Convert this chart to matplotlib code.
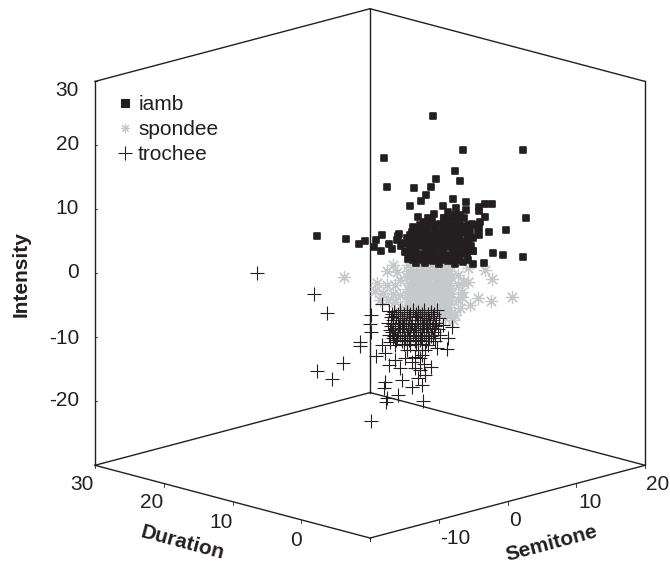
import matplotlib
matplotlib.use('Agg')
import matplotlib.pyplot as plt
from matplotlib.lines import Line2D

plt.rcParams['font.family'] = ['Liberation Sans', 'DejaVu Sans']

# Values. Depth along Duration can't be read from a single
# view, so each point is given as (Semitone, Intensity) on the Duration = 5 plane.
duration_plane = 5

iamb_semitone = [4.1, 8.5, 17.3, -3.0, 7.3, 4.6, 8.1, -2.6, 1.4, 3.8, 3.1, 2.4, 7.0, 9.0, 0.8, 5.6, 10.9, 11.7, 12.7, 10.9,
                 17.7, 2.0, 4.3, 5.8, 11.7, 14.7, 12.3, 10.9, -12.7, -8.5, -6.6, -5.7, -4.2, -4.4, -3.4, -3.2, -2.2, -1.8, -1.0, 0.8,
                 1.2, 9.9, 12.9, 14.3, 17.3, 11.5, 10.0,
                 0.4, 0.6, 0.3, 0.5,
                 1.7, 1.5, 1.8, 1.6, 1.9, 1.7,
                 2.9, 3.0, 2.7, 2.9, 3.1, 2.8, 3.0,
                 4.0, 4.2, 3.9, 4.1, 3.8, 4.0, 4.2,
                 5.2, 5.0, 5.3, 5.1, 5.4, 5.2, 5.0,
                 6.3, 6.1, 6.4, 6.2, 6.5, 6.3, 6.1, 6.4,
                 7.5, 7.3, 7.6, 7.4, 7.7, 7.5, 7.3, 7.6, 7.4,
                 8.7, 8.5, 8.8, 8.6, 8.9, 8.7, 8.5,
                 9.8, 9.6, 9.9, 9.7, 10.0, 11.0, 10.9,
                 1.1, 1.2, 1.0, 1.1, 1.2,
                 2.3, 2.2, 2.4, 2.3, 2.2, 2.4,
                 3.4, 3.5, 3.3, 3.4, 3.5, 3.3, 3.4,
                 4.6, 4.5, 4.7, 4.6, 4.5, 4.7,
                 5.7, 5.8, 5.6, 5.7, 5.8, 5.6, 5.7,
                 6.9, 6.8, 7.0, 6.9, 6.8, 7.0, 6.9,
                 8.0, 8.1, 7.9, 8.0, 8.1, 7.9, 8.0,
                 9.2, 9.1, 9.3, 9.2, 9.1, 9.3,
                 -1.1, -0.5, 0.1, 0.8, -0.2, -0.8, 10.3, 10.7, 9.5, 9.0, 8.1]
iamb_intensity = [24.9, 18.3, 15.8, 20.3, 15.4, 14.9, 13.5, 15.7, 14.4, 13.9, 12.8, 12.1, 11.0, 10.0, 11.7, 10.3, 8.7, 8.9, 8.6, 8.0,
                  5.0, 9.7, 9.5, 8.5, 6.9, 4.0, 4.4, 4.3, 10.9, 9.2, 7.9, 8.1, 7.8, 6.8, 5.9, 8.4, 6.6, 5.7, 7.6, 7.2,
                  8.4, 2.1, 1.0, 0.2, -1.0, -0.2, 0.0,
                  6.8, 5.7, 4.7, 3.6,
                  8.0, 6.8, 5.7, 4.6, 3.5, 2.5,
                  8.6, 7.5, 6.5, 5.4, 4.3, 3.2, 2.2,
                  8.7, 7.6, 6.5, 5.4, 4.3, 3.2, 2.1,
                  7.6, 6.5, 5.4, 4.3, 3.3, 2.2, 1.4,
                  9.2, 8.1, 7.0, 5.9, 4.8, 3.7, 2.6, 1.5,
                  9.5, 8.4, 7.3, 6.2, 5.2, 4.1, 3.0, 1.9, 0.8,
                  7.6, 6.3, 5.2, 4.1, 3.0, 1.9, 0.8,
                  6.3, 5.2, 4.1, 3.0, 2.0, 6.3, 5.4,
                  7.6, 6.5, 5.4, 4.3, 3.2,
                  8.3, 7.2, 6.1, 5.0, 3.9, 2.8,
                  9.1, 8.0, 6.9, 5.8, 4.7, 3.6, 2.5,
                  7.7, 6.6, 5.5, 4.4, 3.3, 2.2,
                  8.5, 7.4, 6.3, 5.2, 4.1, 3.0, 1.9,
                  8.1, 7.0, 5.9, 4.8, 3.7, 2.6, 1.5,
                  7.8, 6.7, 5.6, 4.5, 3.4, 2.3, 1.2,
                  6.4, 5.3, 4.2, 3.1, 2.0, 0.9,
                  6.9, 5.8, 4.7, 3.6, 6.2, 7.8, 6.0, 4.8, 4.2, 8.8, 8.2]

spondee_semitone = [-8.8, -1.7, -2.6, -1.1, -4.0, -2.6, -1.4, -4.3, -3.1, -1.6, -3.5, 9.3, 8.5, 8.3, 8.3, 10.7, 12.6, 15.7, 9.5, 11.7,
                    12.7, 9.3, 7.4, 7.1,
                    0.5, 0.4, 0.6, 0.5, 0.3, 0.5, 0.6, 0.4,
                    1.4, 1.5, 1.3, 1.4, 1.6, 1.4, 1.3, 1.5,
                    2.3, 2.2, 2.4, 2.3, 2.1, 2.3, 2.4, 2.2,
                    3.1, 3.2, 3.0, 3.1, 3.3, 3.1, 3.0, 3.2,
                    4.0, 3.9, 4.1, 4.0, 3.8, 4.0, 4.1, 3.9,
                    4.9, 5.0, 4.8, 4.9, 5.1, 4.9, 4.8, 5.0,
                    5.8, 5.7, 5.9, 5.8, 5.6, 5.8, 5.9, 5.7,
                    6.6, 6.7, 6.5, 6.6, 6.8, 6.6, 6.5, 6.7,
                    0.9, 1.0, 0.8, 0.9, 1.1, 0.9, 0.8,
                    1.8, 1.7, 1.9, 1.8, 1.6, 1.8, 1.9,
                    2.7, 2.8, 2.6, 2.7, 2.9, 2.7, 2.6,
                    3.5, 3.4, 3.6, 3.5, 3.3, 3.5, 3.6,
                    4.4, 4.5, 4.3, 4.4, 4.6, 4.4, 4.3,
                    5.3, 5.2, 5.4, 5.3, 5.1, 5.3, 5.4,
                    6.2, 6.3, 6.1, 6.2, 6.4, 6.2, 6.1,
                    0.5, 1.4, 2.3, 3.1, 4.0, 4.9, 5.8, 6.6,
                    7.8, 7.8, 7.8, 8.1, -0.6, -0.6, -0.3, -1.4, -2.4, 0.1, 3.0, 5.9]
spondee_intensity = [3.4, 3.2, 2.6, 2.0, 1.0, 0.3, 0.0, -0.1, -0.7, -1.3, -1.8, -2.5, -2.3, -3.8, -4.6, -5.4, -6.5, -6.8, -6.2, -1.3,
                     -3.0, -0.4, -7.2, -7.9,
                     1.6, 0.7, -0.2, -1.2, -2.1, -3.1, -4.0, -4.9,
                     1.4, 0.4, -0.5, -1.4, -2.4, -3.3, -4.2, -5.2,
                     1.1, 0.2, -0.7, -1.7, -2.6, -3.6, -4.5, -5.4,
                     0.9, 0.0, -1.0, -1.9, -2.9, -3.8, -4.7, -5.7,
                     0.6, -0.3, -1.2, -2.2, -3.1, -4.1, -5.0, -5.9,
                     0.4, -0.6, -1.5, -2.4, -3.4, -4.3, -5.2, -6.2,
                     0.1, -0.8, -1.7, -2.7, -3.6, -4.6, -5.5, -6.4,
                     -0.1, -1.0, -2.0, -2.9, -3.8, -4.8, -5.7, -6.7,
                     1.1, 0.2, -0.7, -1.7, -2.6, -3.5, -4.4,
                     0.9, 0.0, -1.0, -1.9, -2.9, -3.8, -4.7,
                     0.6, -0.3, -1.2, -2.2, -3.1, -4.0, -5.0,
                     0.4, -0.5, -1.5, -2.4, -3.4, -4.3, -5.2,
                     0.1, -0.8, -1.7, -2.7, -3.6, -4.6, -5.5,
                     -0.1, -1.0, -2.0, -2.9, -3.9, -4.8, -5.7,
                     -0.4, -1.3, -2.2, -3.2, -4.1, -5.1, -6.0,
                     2.6, 2.3, 2.1, 1.8, 1.6, 1.3, 1.1, 0.8,
                     -1.1, -2.6, -5.0, -6.3, 0.5, -1.8, -3.9, -2.7, -2.1, -5.6, -6.4, -7.2]

trochee_semitone = [-21.4, -13.1, -11.3, -12.7, -8.9, -10.5, -4.8, -5.0, -4.9, -6.5, -6.5, -4.1, -3.3, -2.8, -2.1, -1.4, -2.3, -0.6, 1.5, 2.9,
                    3.8, 2.3, -2.8, -0.4, 1.9, 1.1, 2.5, -3.0, -2.5, -2.7, -1.0, 2.7, -4.8, 6.2, 6.9, 4.5, 4.7, -3.2, 1.5, 0.3, 2.5,
                    -1.8, -1.7, -1.9, -1.8, -1.6,
                    -0.9, -1.0, -0.8, -0.9, -1.1,
                    -0.1, 0.0, -0.2, -0.1, 0.1, -0.1,
                    0.8, 0.7, 0.9, 0.8, 0.6, 0.8,
                    1.7, 1.8, 1.6, 1.7, 1.9, 1.7,
                    2.6, 2.5, 2.7, 2.6, 2.4, 2.6,
                    3.4, 3.5, 3.3, 3.4, 3.6,
                    4.3, 4.2, 4.4, 4.3, 4.1,
                    -2.3, -2.0, -2.4, -2.1, -2.3,
                    -1.5, -1.2, -1.6, -1.3, -1.5, -1.2,
                    -0.6, -0.3, -0.7, -0.4, -0.6, -0.3,
                    0.3, 0.6, 0.2, 0.5, 0.3, 0.6,
                    1.2, 1.5, 1.1, 1.4, 1.2, 1.5,
                    2.0, 2.3, 1.9, 2.2, 2.0, 2.3,
                    2.9, 3.2, 2.8, 3.1, 2.9, 3.2,
                    3.8, 4.1, 3.7, 4.0, 3.8,
                    4.7, 5.0, 4.6, 4.9,
                    0.8, 2.0, 3.0, 3.4, 1.1, 0.1, 2.3, 3.0, -1.4, 5.2, 5.6, 6.3]
trochee_intensity = [7.5, 1.9, -1.5, -10.2, -10.0, -12.1, -3.8, -5.0, -6.4, -7.4, -8.1, -10.4, -8.8, -10.3, -8.7, -11.7, -12.3, -13.2, -13.8, -13.5,
                     -14.3, -12.5, -14.7, -15.1, -15.5, -16.7, -16.7, -15.7, -17.4, -17.9, -17.3, -19.3, -20.3, -12.2, -9.0, -10.5, -11.6, -2.5, -12.0, -10.6, -12.0,
                     -4.4, -5.4, -6.3, -7.2, -8.2,
                     -4.7, -5.6, -6.6, -7.5, -8.4,
                     -4.9, -5.9, -6.8, -7.7, -8.7, -9.6,
                     -5.2, -6.1, -7.0, -8.0, -8.9, -9.8,
                     -5.4, -6.4, -7.3, -8.2, -9.2, -10.1,
                     -5.7, -6.6, -7.5, -8.5, -9.4, -10.3,
                     -5.9, -6.9, -7.8, -8.7, -9.7,
                     -6.2, -7.1, -8.0, -9.0, -9.9,
                     -3.8, -4.9, -5.6, -6.8, -7.5,
                     -4.2, -4.9, -6.0, -6.8, -7.9, -8.7,
                     -4.2, -5.4, -6.1, -7.2, -8.0, -9.1,
                     -4.7, -5.4, -6.5, -7.3, -8.4, -9.2,
                     -4.7, -5.9, -6.6, -7.8, -8.5, -9.6,
                     -5.2, -5.9, -7.0, -7.8, -8.9, -9.7,
                     -5.2, -6.4, -7.1, -8.2, -9.0, -10.1,
                     -5.7, -6.4, -7.5, -8.3, -9.4,
                     -5.7, -6.9, -7.6, -8.7,
                     -10.0, -11.1, -11.4, -10.8, -12.8, -11.8, -14.3, -15.3, -9.4, -9.7, -8.3, -10.5]

semitone_ticks = [-20, -10, 0, 10, 20]
duration_ticks = [-10, 0, 10, 20, 30]
intensity_ticks = [-30, -20, -10, 0, 10, 20, 30]

black = '#231f20'
gray = '#c6c8ca'
star = (8, 2, 0)

fig = plt.figure(figsize=(6.7, 5.66), dpi=100)
ax = fig.add_axes([0.1185, 0.0035, 0.8448, 1.0], projection='3d', proj_type='ortho')
ax.computed_zorder = False

ax.scatter(spondee_semitone, spondee_intensity, zs=duration_plane, zdir='y', s=78, marker=star, c=gray,
           linewidths=0.9, depthshade=False, zorder=2, clip_on=False)
ax.scatter(iamb_semitone, iamb_intensity, zs=duration_plane, zdir='y', s=23, marker='s', c=black, edgecolors=black,
           linewidths=1.2, joinstyle='round', depthshade=False, zorder=3, clip_on=False)
ax.scatter(trochee_semitone, trochee_intensity, zs=duration_plane, zdir='y', s=100, marker='+', c=black,
           linewidths=0.8, depthshade=False, zorder=4, clip_on=False)

# box edges, the front vertical and the two front top edges are left out
s0, s1 = semitone_ticks[0], semitone_ticks[-1]
d0, d1 = duration_ticks[0], duration_ticks[-1]
z0, z1 = intensity_ticks[0], intensity_ticks[-1]
edges = [((s0, s1), (d0, d0), (z0, z0)), ((s0, s0), (d0, d1), (z0, z0)),
         ((s0, s1), (d1, d1), (z0, z0)), ((s1, s1), (d0, d1), (z0, z0)),
         ((s0, s0), (d1, d1), (z0, z1)), ((s1, s1), (d1, d1), (z0, z1)),
         ((s1, s1), (d0, d0), (z0, z1)),
         ((s0, s1), (d1, d1), (z1, z1)), ((s1, s1), (d0, d1), (z1, z1))]
for xe, ye, ze in edges:
    ax.plot(xe, ye, ze, color=black, lw=1.0, zorder=1, clip_on=False)

for t in intensity_ticks:
    ax.plot((s0, s0 + 0.15), (d1, d1 - 0.15), (t, t), color=black, lw=0.6, zorder=1, clip_on=False)
for t in semitone_ticks:
    ax.plot((t, t), (d0, d0), (z0, z0 - 0.5), color=black, lw=0.6, zorder=1, clip_on=False)
for t in duration_ticks:
    ax.plot((s0, s0), (t, t), (z0, z0 - 0.5), color=black, lw=0.6, zorder=1, clip_on=False)

ax.set_xlim(s0, s1, view_margin=0)
ax.set_ylim(d0, d1, view_margin=0)
ax.set_zlim(z0, z1, view_margin=0)
ax.set_box_aspect((1, 1, 1.023), zoom=1.1647)
ax.view_init(elev=15.33, azim=-135)
ax.set_axis_off()


def px_text(x, y, s, **kw):
    kw.setdefault('ha', 'center')
    kw.setdefault('va', 'center')
    fig.text(x / 670, 1 - y / 566, s, fontsize=15, color=black, **kw)


for y, lab in zip([90, 145, 209, 273, 338, 401], ['30', '20', '10', '0', '-10', '-20']):
    px_text(79, y, lab, ha='right')
for x, y, lab in zip([82, 152, 221, 296], [485, 503, 523, 541], ['30', '20', '10', '0']):
    px_text(x, y, lab)
for x, y, lab in zip([455, 515, 590, 658], [539, 521, 502, 484], ['-10', '0', '10', '20']):
    px_text(x, y, lab)

px_text(21, 274, 'Intensity', rotation=90, fontweight='bold')
px_text(183, 543, 'Duration', rotation=-15, fontweight='bold')
px_text(552, 543, 'Semitone', rotation=15, fontweight='bold')

handles = [Line2D([], [], ls='', marker='s', ms=5.5, color=black, mec=black, mew=0.8, mfc=black),
           Line2D([], [], ls='', marker=star, ms=6.5, color=gray, mew=0.8),
           Line2D([], [], ls='', marker='+', ms=10.5, color=black, mew=0.8)]
fig.legend(handles, ['iamb', 'spondee', 'trochee'], loc='upper left', bbox_to_anchor=(115 / 670, 1 - 95 / 566),
           bbox_transform=fig.transFigure, frameon=False, fontsize=15, labelcolor=black, handlelength=1.0,
           handletextpad=0.11, labelspacing=0.3, borderpad=0, borderaxespad=0)

plt.savefig('out.png', dpi=100)
